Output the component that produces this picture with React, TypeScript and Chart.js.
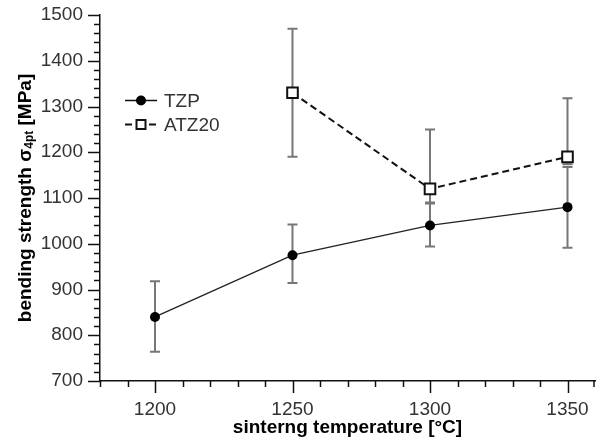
import React, { useEffect, useRef } from "react";
import { Chart, registerables } from "chart.js";

Chart.register(...registerables);

const temperatures = [1200, 1250, 1300, 1350];
const tzpValues = [840, 975, 1040, 1080];
const tzpLow = [764, 914, 994, 991];
const tzpHigh = [918, 1042, 1088, 1168];

const atzTemps = [1250, 1300, 1350];
const atzValues = [1330, 1120, 1190];
const atzLow = [1190, 1090, 1174];
const atzHigh = [1470, 1250, 1318];

const xTickValues = [1200, 1250, 1300, 1350];
const yTickValues = [700, 800, 900, 1000, 1100, 1200, 1300, 1400, 1500];

const seriesNames = ["TZP", "ATZ20"];
const xTitle = "sinterng temperature [°C]";
const yTitleMain = "bending strength σ";
const yTitleSub = "4pt";
const yTitleEnd = " [MPa]";

const FONT = "'Liberation Sans', Arial, sans-serif";

const customPlugin = {
  id: "custom",
  beforeDatasetsDraw(chart: any) {
    const ctx = chart.ctx;
    const xs = chart.scales.x;
    const ys = chart.scales.y;
    ctx.save();
    ctx.strokeStyle = "#777";
    ctx.lineWidth = 2;
    const bars = [
      { t: temperatures, lo: tzpLow, hi: tzpHigh },
      { t: atzTemps, lo: atzLow, hi: atzHigh },
    ];
    bars.forEach((b) => {
      b.t.forEach((t, i) => {
        const x = xs.getPixelForValue(t);
        const y1 = ys.getPixelForValue(b.lo[i]);
        const y2 = ys.getPixelForValue(b.hi[i]);
        ctx.beginPath();
        ctx.moveTo(x, y1);
        ctx.lineTo(x, y2);
        ctx.moveTo(x - 5, y1);
        ctx.lineTo(x + 5, y1);
        ctx.moveTo(x - 5, y2);
        ctx.lineTo(x + 5, y2);
        ctx.stroke();
      });
    });
    ctx.restore();
  },
  afterDraw(chart: any) {
    const ctx = chart.ctx;
    const xs = chart.scales.x;
    const ys = chart.scales.y;
    const area = chart.chartArea;
    ctx.save();
    // axis ticks
    ctx.strokeStyle = "#111";
    ctx.lineWidth = 1.5;
    ctx.beginPath();
    for (let v = 1180; v <= 1360; v += 10) {
      const x = Math.min(Math.round(xs.getPixelForValue(v)) + 0.5, area.right - 1);
      const len = v % 50 === 0 ? 12 : 6;
      ctx.moveTo(x, area.bottom);
      ctx.lineTo(x, area.bottom + len);
    }
    for (let v = 700; v <= 1500; v += 20) {
      const y = Math.round(ys.getPixelForValue(v)) + 0.5;
      const len = v % 100 === 0 ? 12 : 6;
      ctx.moveTo(area.left, y);
      ctx.lineTo(area.left - len, y);
    }
    ctx.stroke();

    // x tick labels
    ctx.fillStyle = "#333";
    ctx.font = `19px ${FONT}`;
    ctx.textAlign = "center";
    ctx.textBaseline = "alphabetic";
    xTickValues.forEach((v) => {
      ctx.fillText(String(v), xs.getPixelForValue(v), 415);
    });

    // axis titles
    ctx.fillStyle = "#000";
    ctx.font = `bold 19px ${FONT}`;
    ctx.textAlign = "center";
    ctx.textBaseline = "alphabetic";
    ctx.fillText(xTitle, (area.left + area.right) / 2, 433);

    ctx.save();
    const cy = (area.top + area.bottom) / 2;
    ctx.translate(31, cy);
    ctx.rotate(-Math.PI / 2);
    ctx.font = `bold 19px ${FONT}`;
    const w1 = ctx.measureText(yTitleMain).width;
    const w3 = ctx.measureText(yTitleEnd).width;
    ctx.font = `bold 12px ${FONT}`;
    const w2 = ctx.measureText(yTitleSub).width;
    const total = w1 + w2 + w3;
    let px = -total / 2;
    ctx.textAlign = "left";
    ctx.font = `bold 19px ${FONT}`;
    ctx.fillText(yTitleMain, px, 0);
    px += w1;
    ctx.font = `bold 12px ${FONT}`;
    ctx.fillText(yTitleSub, px, 2);
    px += w2;
    ctx.font = `bold 19px ${FONT}`;
    ctx.fillText(yTitleEnd, px, 0);
    ctx.restore();

    // legend
    const lx0 = 125;
    const lx1 = 157;
    const lxm = 141;
    const rows = [100.5, 124.5];
    ctx.strokeStyle = "#111";
    ctx.lineWidth = 1.5;
    ctx.beginPath();
    ctx.moveTo(lx0, rows[0]);
    ctx.lineTo(lx1, rows[0]);
    ctx.stroke();
    ctx.fillStyle = "#000";
    ctx.beginPath();
    ctx.arc(lxm, rows[0], 5, 0, Math.PI * 2);
    ctx.fill();

    ctx.lineWidth = 2;
    ctx.beginPath();
    ctx.moveTo(lx0, rows[1]);
    ctx.lineTo(lx0 + 7, rows[1]);
    ctx.moveTo(lx1 - 8, rows[1]);
    ctx.lineTo(lx1 - 1, rows[1]);
    ctx.stroke();
    ctx.fillStyle = "#fff";
    ctx.fillRect(lxm - 4.5, rows[1] - 4.5, 9, 9);
    ctx.strokeRect(lxm - 4.5, rows[1] - 4.5, 9, 9);

    ctx.fillStyle = "#333";
    ctx.font = `19px ${FONT}`;
    ctx.textAlign = "left";
    ctx.textBaseline = "middle";
    ctx.fillText(seriesNames[0], 164, rows[0] + 1);
    ctx.fillText(seriesNames[1], 164, rows[1] + 1);
    ctx.restore();
  },
};

export default function App() {
  const canvasRef = useRef<HTMLCanvasElement | null>(null);

  useEffect(() => {
    const canvas = canvasRef.current;
    if (!canvas) return;
    const chart = new Chart(canvas, {
      type: "line",
      data: {
        datasets: [
          {
            label: seriesNames[0],
            data: temperatures.map((t, i) => ({ x: t, y: tzpValues[i] })),
            borderColor: "#222",
            borderWidth: 1.3,
            backgroundColor: "#000",
            pointStyle: "circle",
            pointRadius: 5,
            pointBorderWidth: 0,
            pointBackgroundColor: "#000",
          },
          {
            label: seriesNames[1],
            data: atzTemps.map((t, i) => ({ x: t, y: atzValues[i] })),
            borderColor: "#111",
            borderWidth: 2,
            borderDash: [7, 4],
            pointStyle: "rect",
            pointRadius: 7.5,
            pointBorderWidth: 2,
            pointBorderColor: "#111",
            pointBackgroundColor: "#fff",
          },
        ],
      },
      options: {
        responsive: false,
        animation: false,
        devicePixelRatio: 1,
        layout: { autoPadding: false, padding: { top: 15, right: 1, left: 0, bottom: 0 } },
        plugins: {
          legend: { display: false },
          tooltip: { enabled: false },
        },
        scales: {
          x: {
            type: "linear",
            min: 1180,
            max: 1360,
            afterBuildTicks: (scale: any) => {
              scale.ticks = xTickValues.map((v) => ({ value: v }));
            },
            afterFit: (scale: any) => {
              scale.height = 60;
            },
            grid: { display: false, drawTicks: false, tickLength: 0 },
            border: { display: true, color: "#111", width: 1.5 },
            ticks: { display: false },
          },
          y: {
            type: "linear",
            min: 700,
            max: 1500,
            afterBuildTicks: (scale: any) => {
              scale.ticks = yTickValues.map((v) => ({ value: v }));
            },
            afterFit: (scale: any) => {
              scale.width = 100;
              scale.paddingTop = 0;
              scale.paddingBottom = 0;
            },
            grid: { display: false, drawTicks: false, tickLength: 0 },
            border: { display: true, color: "#111", width: 1.5 },
            ticks: {
              padding: 17,
              color: "#333",
              font: { family: FONT, size: 19 },
              callback: (v: any) => String(v),
            },
          },
        },
      },
      plugins: [customPlugin],
    });
    return () => chart.destroy();
  }, []);

  return (
    <div
      style={{
        position: "absolute",
        left: 0,
        top: 0,
        width: 596,
        height: 441,
        background: "#fff",
      }}
    >
      <canvas ref={canvasRef} width={596} height={441} />
    </div>
  );
}
